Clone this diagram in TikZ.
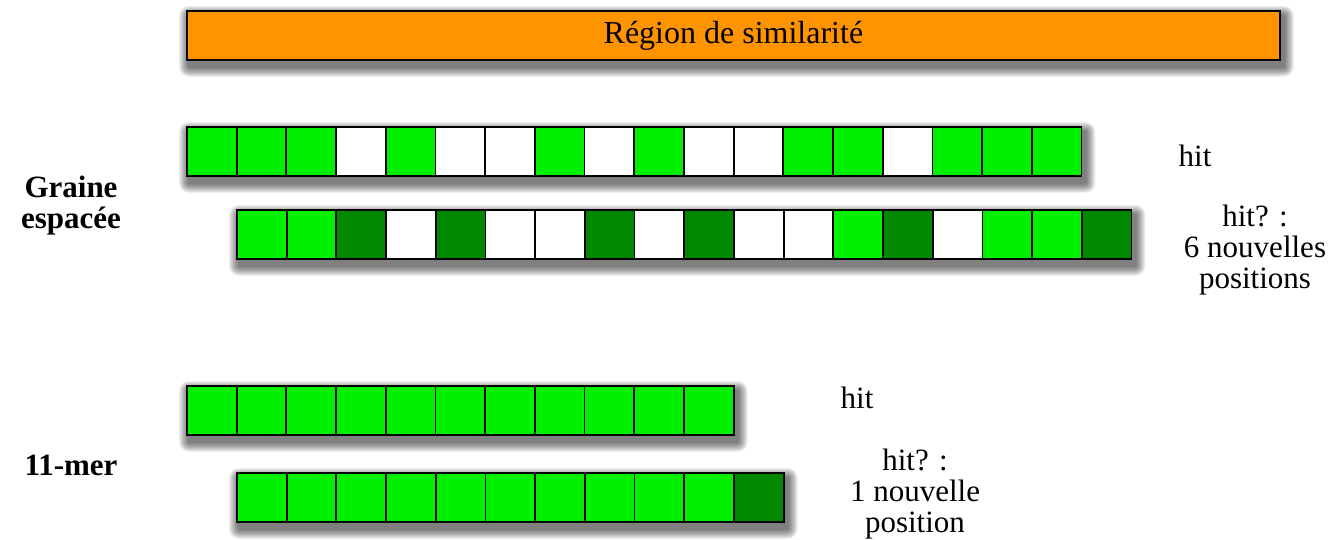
\documentclass[tikz,border=0pt]{standalone}
\usepackage{fontspec}
\setmainfont{Liberation Serif}
\pgfdeclarelayer{bg}
\pgfsetlayers{bg,main}
\definecolor{lg}{HTML}{00F000}
\definecolor{dg}{HTML}{008800}
\definecolor{og}{HTML}{FF9300}
\tikzset{
  cell/.style={draw=black, line width=1.8pt, minimum width=49.7pt, minimum height=49pt, inner sep=0pt, anchor=north west},
  lab/.style={font=\fontsize{31}{31}\selectfont, align=center},
  side/.style={font=\fontsize{31}{31}\selectfont\bfseries, align=center},
  softshadow/.style={fill=black, opacity=0.065}
}
\begin{document}
\begin{tikzpicture}[x=1pt,y=-1pt]
\useasboundingbox (0,0) rectangle (1332,540);
% title bar
\node[draw=black, line width=1.8pt, fill=og, minimum width=1093pt, minimum height=49pt, inner sep=0pt, anchor=north west,
  font=\fontsize{32}{32}\selectfont] (title) at (186,10) {Région de similarité};
% row 1
\foreach \c [count=\i from 0] in {lg,lg,lg,white,lg,white,white,lg,white,lg,white,white,lg,lg,white,lg,lg,lg}
  \node[cell, fill=\c] (a\i) at ({186+49.7*\i},126) {};
% row 2
\foreach \c [count=\i from 0] in {lg,lg,dg,white,dg,white,white,dg,white,dg,white,white,lg,dg,white,lg,lg,dg}
  \node[cell, fill=\c] (b\i) at ({236+49.7*\i},209) {};
% row 3
\foreach \c [count=\i from 0] in {lg,lg,lg,lg,lg,lg,lg,lg,lg,lg,lg}
  \node[cell, fill=\c] (c\i) at ({186+49.7*\i},385) {};
% row 4
\foreach \c [count=\i from 0] in {lg,lg,lg,lg,lg,lg,lg,lg,lg,lg,dg}
  \node[cell, fill=\c] (d\i) at ({236+49.7*\i},472) {};
% shadows
\begin{pgfonlayer}{bg}
\foreach \p/\q in {title/title, a0/a17, b0/b17, c0/c10, d0/d10}
  \foreach \r in {1,...,10}
    \fill[softshadow, rounded corners=\r pt] ([shift={(3-\r,6-\r)}]\p.north west) rectangle ([shift={(3+\r,6+\r)}]\q.south east);
\end{pgfonlayer}
% labels
\node[side] (gs) at (71,206) {Graine\\espacée};
\node[side] (km) at (71,465) {11-mer};
\node[lab] (h1) at (1195,156) {hit};
\node[lab] (h2) at (1255,250) {hit? :\\6 nouvelles\\positions};
\node[lab] (h3) at (857,398) {hit};
\node[lab] (h4) at (915,494) {hit? :\\1 nouvelle\\position};
\end{tikzpicture}
\end{document}
